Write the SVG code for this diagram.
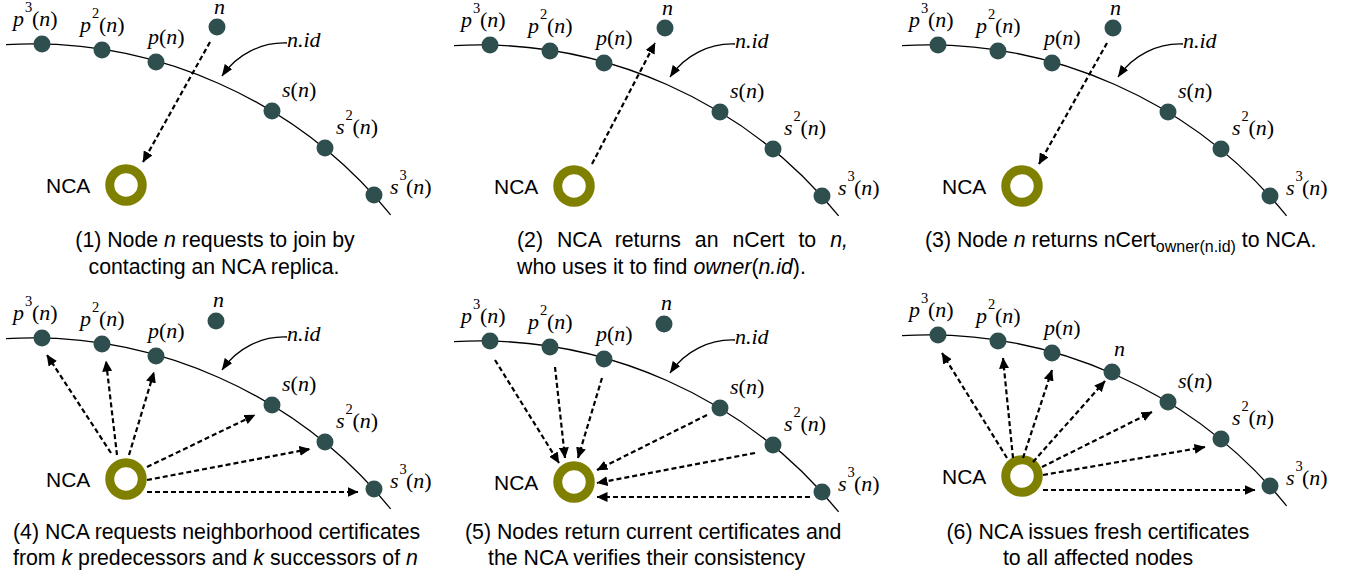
<svg xmlns="http://www.w3.org/2000/svg" width="1346" height="576" viewBox="0 0 1346 576">
<style>
.ring{fill:none;stroke:#000;stroke-width:1.3}
.dot{fill:#2F4F4F}
.nca{fill:none;stroke:#808000;stroke-width:9}
.lbl{font-family:"Liberation Serif","Times New Roman","DejaVu Serif",serif;font-size:22px;fill:#000}
.it{font-style:italic}
.sup{font-size:14.5px}
.ncat{font-family:"Liberation Sans",Arial,sans-serif;font-size:21px;fill:#000}
.cap{font-family:"Liberation Sans",Arial,sans-serif;font-size:21.3px;fill:#000}
.sub{font-size:16px}
.dash{fill:none;stroke:#000;stroke-width:2.2;stroke-dasharray:5 3;marker-end:url(#ah)}
.cur{fill:none;stroke:#000;stroke-width:1.3;marker-end:url(#ah2)}
</style>
<defs>
<marker id="ah" markerUnits="userSpaceOnUse" viewBox="0 0 11 10" markerWidth="11" markerHeight="10" refX="10.5" refY="5" orient="auto"><path d="M0 0 L11 5 L0 10 z" fill="#000"/></marker>
<marker id="ah2" markerUnits="userSpaceOnUse" viewBox="0 0 12 9" markerWidth="12" markerHeight="9" refX="11.5" refY="4.5" orient="auto"><path d="M0 0 L12 4.5 L0 9 z" fill="#000"/></marker>
</defs>
<rect width="1346" height="576" fill="#fff"/>

<!-- Panel 1 -->
<g id="panel1">
<g transform="translate(0,0)">
<path class="ring" d="M6 44.7 A462 462 0 0 1 390.6 214.9"/>
<g id="p1-p3"><circle class="dot" cx="42" cy="44" r="8.5"/><text class="lbl"><tspan class="it" x="13" y="26">p</tspan><tspan class="sup" x="25" y="12">3</tspan><tspan x="32" y="26">(</tspan><tspan class="it">n</tspan>)</text></g>
<g id="p1-p2"><circle class="dot" cx="102" cy="50" r="8.5"/><text class="lbl"><tspan class="it" x="80" y="32">p</tspan><tspan class="sup" x="92" y="18">2</tspan><tspan x="99" y="32">(</tspan><tspan class="it">n</tspan>)</text></g>
<g id="p1-p"><circle class="dot" cx="156" cy="62" r="8.5"/><text class="lbl" x="148" y="44"><tspan class="it">p</tspan>(<tspan class="it">n</tspan>)</text></g>
<g id="p1-n"><circle class="dot" cx="217" cy="27" r="8.5"/><text class="lbl it" x="214" y="13.5">n</text></g>
<g id="p1-s"><circle class="dot" cx="272" cy="111" r="8.5"/><text class="lbl" x="282" y="97"><tspan class="it">s</tspan>(<tspan class="it">n</tspan>)</text></g>
<g id="p1-s2"><circle class="dot" cx="325" cy="148" r="8.5"/><text class="lbl"><tspan class="it" x="336" y="134">s</tspan><tspan class="sup" x="345.5" y="120">2</tspan><tspan x="352.5" y="134">(</tspan><tspan class="it">n</tspan>)</text></g>
<g id="p1-s3"><circle class="dot" cx="374" cy="195" r="8.5"/><text class="lbl"><tspan class="it" x="390" y="194">s</tspan><tspan class="sup" x="399.5" y="180">3</tspan><tspan x="406" y="194">(</tspan><tspan class="it">n</tspan>)</text></g>
<g id="p1-nca"><circle class="nca" cx="126" cy="185" r="16.25"/><text class="ncat" x="46" y="193">NCA</text></g>
<g id="p1-nid"><text class="lbl it" x="287" y="47">n.id</text></g>
<g id="p1-conn"><path class="cur" d="M287 43 C262 42 237 54 222 76"/><path class="dash" d="M210 42 L143 162"/></g>
</g>
<text class="cap" text-anchor="middle" x="215" y="247">(1) Node <tspan class="it">n</tspan> requests to join by</text>
<text class="cap" text-anchor="middle" x="214" y="274">contacting an NCA replica.</text>
</g>

<!-- Panel 2 -->
<g id="panel2">
<g transform="translate(448,1)">
<path class="ring" d="M6 44.7 A462 462 0 0 1 390.6 214.9"/>
<g id="p2-p3"><circle class="dot" cx="42" cy="44" r="8.5"/><text class="lbl"><tspan class="it" x="13" y="26">p</tspan><tspan class="sup" x="25" y="12">3</tspan><tspan x="32" y="26">(</tspan><tspan class="it">n</tspan>)</text></g>
<g id="p2-p2"><circle class="dot" cx="102" cy="50" r="8.5"/><text class="lbl"><tspan class="it" x="80" y="32">p</tspan><tspan class="sup" x="92" y="18">2</tspan><tspan x="99" y="32">(</tspan><tspan class="it">n</tspan>)</text></g>
<g id="p2-p"><circle class="dot" cx="156" cy="62" r="8.5"/><text class="lbl" x="148" y="44"><tspan class="it">p</tspan>(<tspan class="it">n</tspan>)</text></g>
<g id="p2-n"><circle class="dot" cx="217" cy="27" r="8.5"/><text class="lbl it" x="214" y="13.5">n</text></g>
<g id="p2-s"><circle class="dot" cx="272" cy="111" r="8.5"/><text class="lbl" x="282" y="97"><tspan class="it">s</tspan>(<tspan class="it">n</tspan>)</text></g>
<g id="p2-s2"><circle class="dot" cx="325" cy="148" r="8.5"/><text class="lbl"><tspan class="it" x="336" y="134">s</tspan><tspan class="sup" x="345.5" y="120">2</tspan><tspan x="352.5" y="134">(</tspan><tspan class="it">n</tspan>)</text></g>
<g id="p2-s3"><circle class="dot" cx="374" cy="195" r="8.5"/><text class="lbl"><tspan class="it" x="390" y="194">s</tspan><tspan class="sup" x="399.5" y="180">3</tspan><tspan x="406" y="194">(</tspan><tspan class="it">n</tspan>)</text></g>
<g id="p2-nca"><circle class="nca" cx="126" cy="185" r="16.25"/><text class="ncat" x="46" y="193">NCA</text></g>
<g id="p2-nid"><text class="lbl it" x="287" y="47">n.id</text></g>
<g id="p2-conn"><path class="cur" d="M287 43 C262 42 237 54 222 76"/><path class="dash" d="M144 163 L207 42"/></g>
</g>
<text class="cap" x="517" y="247" word-spacing="8">(2) NCA returns an nCert to <tspan class="it">n,</tspan></text>
<text class="cap" x="517" y="274">who uses it to find <tspan class="it">owner</tspan>(<tspan class="it">n.id</tspan>).</text>
</g>

<!-- Panel 3 -->
<g id="panel3">
<g transform="translate(896,1)">
<path class="ring" d="M6 44.7 A462 462 0 0 1 390.6 214.9"/>
<g id="p3-p3"><circle class="dot" cx="42" cy="44" r="8.5"/><text class="lbl"><tspan class="it" x="13" y="26">p</tspan><tspan class="sup" x="25" y="12">3</tspan><tspan x="32" y="26">(</tspan><tspan class="it">n</tspan>)</text></g>
<g id="p3-p2"><circle class="dot" cx="102" cy="50" r="8.5"/><text class="lbl"><tspan class="it" x="80" y="32">p</tspan><tspan class="sup" x="92" y="18">2</tspan><tspan x="99" y="32">(</tspan><tspan class="it">n</tspan>)</text></g>
<g id="p3-p"><circle class="dot" cx="156" cy="62" r="8.5"/><text class="lbl" x="148" y="44"><tspan class="it">p</tspan>(<tspan class="it">n</tspan>)</text></g>
<g id="p3-n"><circle class="dot" cx="217" cy="27" r="8.5"/><text class="lbl it" x="214" y="13.5">n</text></g>
<g id="p3-s"><circle class="dot" cx="272" cy="111" r="8.5"/><text class="lbl" x="282" y="97"><tspan class="it">s</tspan>(<tspan class="it">n</tspan>)</text></g>
<g id="p3-s2"><circle class="dot" cx="325" cy="148" r="8.5"/><text class="lbl"><tspan class="it" x="336" y="134">s</tspan><tspan class="sup" x="345.5" y="120">2</tspan><tspan x="352.5" y="134">(</tspan><tspan class="it">n</tspan>)</text></g>
<g id="p3-s3"><circle class="dot" cx="374" cy="195" r="8.5"/><text class="lbl"><tspan class="it" x="390" y="194">s</tspan><tspan class="sup" x="399.5" y="180">3</tspan><tspan x="406" y="194">(</tspan><tspan class="it">n</tspan>)</text></g>
<g id="p3-nca"><circle class="nca" cx="126" cy="185" r="16.25"/><text class="ncat" x="46" y="193">NCA</text></g>
<g id="p3-nid"><text class="lbl it" x="287" y="47">n.id</text></g>
<g id="p3-conn"><path class="cur" d="M287 43 C262 42 237 54 222 76"/><path class="dash" d="M211 42 L143 163"/></g>
</g>
<text class="cap" x="925" y="247">(3) Node <tspan class="it">n</tspan> returns nCert<tspan class="sub" dy="5">owner(n.id)</tspan><tspan dy="-5"> to NCA.</tspan></text>
</g>

<!-- Panel 4 -->
<g id="panel4">
<g transform="translate(0,294)">
<path class="ring" d="M6 44.7 A462 462 0 0 1 390.6 214.9"/>
<g id="p4-p3"><circle class="dot" cx="42" cy="44" r="8.5"/><text class="lbl"><tspan class="it" x="13" y="26">p</tspan><tspan class="sup" x="25" y="12">3</tspan><tspan x="32" y="26">(</tspan><tspan class="it">n</tspan>)</text></g>
<g id="p4-p2"><circle class="dot" cx="102" cy="50" r="8.5"/><text class="lbl"><tspan class="it" x="80" y="32">p</tspan><tspan class="sup" x="92" y="18">2</tspan><tspan x="99" y="32">(</tspan><tspan class="it">n</tspan>)</text></g>
<g id="p4-p"><circle class="dot" cx="156" cy="62" r="8.5"/><text class="lbl" x="148" y="44"><tspan class="it">p</tspan>(<tspan class="it">n</tspan>)</text></g>
<g id="p4-n"><circle class="dot" cx="216" cy="27" r="8.5"/><text class="lbl it" x="213" y="13">n</text></g>
<g id="p4-s"><circle class="dot" cx="272" cy="111" r="8.5"/><text class="lbl" x="282" y="97"><tspan class="it">s</tspan>(<tspan class="it">n</tspan>)</text></g>
<g id="p4-s2"><circle class="dot" cx="325" cy="148" r="8.5"/><text class="lbl"><tspan class="it" x="336" y="134">s</tspan><tspan class="sup" x="345.5" y="120">2</tspan><tspan x="352.5" y="134">(</tspan><tspan class="it">n</tspan>)</text></g>
<g id="p4-s3"><circle class="dot" cx="374" cy="195" r="8.5"/><text class="lbl"><tspan class="it" x="390" y="194">s</tspan><tspan class="sup" x="399.5" y="180">3</tspan><tspan x="406" y="194">(</tspan><tspan class="it">n</tspan>)</text></g>
<g id="p4-nca"><circle class="nca" cx="126" cy="185" r="16.25"/><text class="ncat" x="46" y="193">NCA</text></g>
<g id="p4-nid"><text class="lbl it" x="287" y="47">n.id</text></g>
<g id="p4-conn">
<path class="cur" d="M287 43 C262 42 237 54 222 76"/>
<path class="dash" d="M111 159 L47 61"/>
<path class="dash" d="M117 161 L106 67"/>
<path class="dash" d="M129 161 L154 78"/>
<path class="dash" d="M147 173 L255 121"/>
<path class="dash" d="M147 186 L310 155"/>
<path class="dash" d="M147 198 L358 198"/>
</g>
</g>
<text class="cap" x="13" y="539">(4) NCA requests neighborhood certificates</text>
<text class="cap" x="13" y="565">from <tspan class="it">k</tspan> predecessors and <tspan class="it">k</tspan> successors of <tspan class="it">n</tspan></text>
</g>

<!-- Panel 5 -->
<g id="panel5">
<g transform="translate(448,297)">
<path class="ring" d="M6 44.7 A462 462 0 0 1 390.6 214.9"/>
<g id="p5-p3"><circle class="dot" cx="42" cy="44" r="8.5"/><text class="lbl"><tspan class="it" x="13" y="26">p</tspan><tspan class="sup" x="25" y="12">3</tspan><tspan x="32" y="26">(</tspan><tspan class="it">n</tspan>)</text></g>
<g id="p5-p2"><circle class="dot" cx="102" cy="50" r="8.5"/><text class="lbl"><tspan class="it" x="80" y="32">p</tspan><tspan class="sup" x="92" y="18">2</tspan><tspan x="99" y="32">(</tspan><tspan class="it">n</tspan>)</text></g>
<g id="p5-p"><circle class="dot" cx="156" cy="62" r="8.5"/><text class="lbl" x="148" y="44"><tspan class="it">p</tspan>(<tspan class="it">n</tspan>)</text></g>
<g id="p5-n"><circle class="dot" cx="216" cy="27" r="8.5"/><text class="lbl it" x="213" y="13">n</text></g>
<g id="p5-s"><circle class="dot" cx="272" cy="111" r="8.5"/><text class="lbl" x="282" y="97"><tspan class="it">s</tspan>(<tspan class="it">n</tspan>)</text></g>
<g id="p5-s2"><circle class="dot" cx="325" cy="148" r="8.5"/><text class="lbl"><tspan class="it" x="336" y="134">s</tspan><tspan class="sup" x="345.5" y="120">2</tspan><tspan x="352.5" y="134">(</tspan><tspan class="it">n</tspan>)</text></g>
<g id="p5-s3"><circle class="dot" cx="374" cy="195" r="8.5"/><text class="lbl"><tspan class="it" x="390" y="194">s</tspan><tspan class="sup" x="399.5" y="180">3</tspan><tspan x="406" y="194">(</tspan><tspan class="it">n</tspan>)</text></g>
<g id="p5-nca"><circle class="nca" cx="126" cy="185" r="16.25"/><text class="ncat" x="46" y="193">NCA</text></g>
<g id="p5-nid"><text class="lbl it" x="287" y="47">n.id</text></g>
<g id="p5-conn">
<path class="cur" d="M287 43 C262 42 237 54 222 76"/>
<path class="dash" d="M47 63 L111 166"/>
<path class="dash" d="M107 70 L117 161"/>
<path class="dash" d="M154 81 L130 161"/>
<path class="dash" d="M259 118 L149 173"/>
<path class="dash" d="M307 156 L149 186"/>
<path class="dash" d="M362 200 L149 200"/>
</g>
</g>
<text class="cap" x="465" y="539">(5) Nodes return current certificates and</text>
<text class="cap" x="488" y="565">the NCA verifies their consistency</text>
</g>

<!-- Panel 6 -->
<g id="panel6">
<g transform="translate(896,291)">
<path class="ring" d="M6 44.7 A462 462 0 0 1 390.6 214.9"/>
<g id="p6-p3"><circle class="dot" cx="42" cy="44" r="8.5"/><text class="lbl"><tspan class="it" x="13" y="26">p</tspan><tspan class="sup" x="25" y="12">3</tspan><tspan x="32" y="26">(</tspan><tspan class="it">n</tspan>)</text></g>
<g id="p6-p2"><circle class="dot" cx="102" cy="50" r="8.5"/><text class="lbl"><tspan class="it" x="80" y="32">p</tspan><tspan class="sup" x="92" y="18">2</tspan><tspan x="99" y="32">(</tspan><tspan class="it">n</tspan>)</text></g>
<g id="p6-p"><circle class="dot" cx="156" cy="62" r="8.5"/><text class="lbl" x="148" y="44"><tspan class="it">p</tspan>(<tspan class="it">n</tspan>)</text></g>
<g id="p6-n"><circle class="dot" cx="216" cy="81" r="8.5"/><text class="lbl it" x="218" y="65">n</text></g>
<g id="p6-s"><circle class="dot" cx="272" cy="111" r="8.5"/><text class="lbl" x="282" y="97"><tspan class="it">s</tspan>(<tspan class="it">n</tspan>)</text></g>
<g id="p6-s2"><circle class="dot" cx="325" cy="148" r="8.5"/><text class="lbl"><tspan class="it" x="336" y="134">s</tspan><tspan class="sup" x="345.5" y="120">2</tspan><tspan x="352.5" y="134">(</tspan><tspan class="it">n</tspan>)</text></g>
<g id="p6-s3"><circle class="dot" cx="374" cy="195" r="8.5"/><text class="lbl"><tspan class="it" x="390" y="194">s</tspan><tspan class="sup" x="399.5" y="180">3</tspan><tspan x="406" y="194">(</tspan><tspan class="it">n</tspan>)</text></g>
<g id="p6-nca"><circle class="nca" cx="126" cy="185" r="16.25"/><text class="ncat" x="46" y="193">NCA</text></g>
<g id="p6-conn">
<path class="dash" d="M111 167 L46 62"/>
<path class="dash" d="M117 167 L107 67"/>
<path class="dash" d="M127 167 L156 79"/>
<path class="dash" d="M137 171 L209 90"/>
<path class="dash" d="M146 176 L256 121"/>
<path class="dash" d="M147 184 L309 156"/>
<path class="dash" d="M147 199 L359 199"/>
</g>
</g>
<text class="cap" text-anchor="middle" x="1098" y="539">(6) NCA issues fresh certificates</text>
<text class="cap" text-anchor="middle" x="1098" y="565">to all affected nodes</text>
</g>
</svg>
